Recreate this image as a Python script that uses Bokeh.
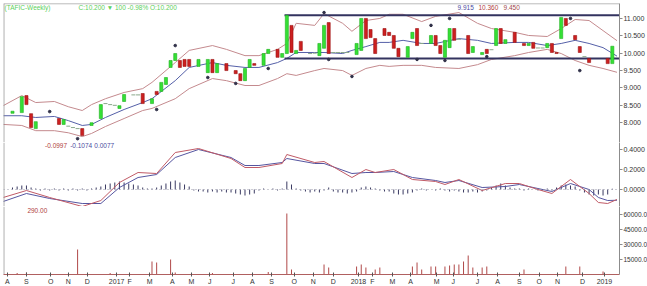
import numpy as np
from bokeh.plotting import figure
from bokeh.models import (ColumnDataSource, Range1d, LinearAxis, FixedTicker,
                          NumeralTickFormatter, Label, Span, AllLabels)
from bokeh.layouts import column
from bokeh.embed import file_html
from bokeh.resources import INLINE

# ---------------- data (week index) ----------------
candle_week = [0, 2, 3, 4, 5, 10, 11, 15, 17, 19, 23, 24, 28, 30, 31, 32, 33, 34, 35, 36,
               37, 38, 40, 42, 43, 44, 46, 48, 49, 50, 51, 52, 54, 55, 57, 58, 59, 60, 61, 62,
               66, 67, 68, 74, 75, 76, 77, 78, 80, 81, 82, 83, 85, 86, 87, 90, 91, 92, 93, 94,
               95, 98, 99, 101, 102, 104, 105, 106, 108, 110, 111, 112, 115, 116, 117, 118, 119,
               121, 122, 124, 128, 129]
candle_open = [8.27, 8.29, 8.78, 8.26, 7.83, 8.12, 7.95, 7.83, 7.92, 8.12, 8.41, 8.61, 8.84, 8.55,
               8.90, 8.90, 9.10, 9.59, 9.79, 9.79, 9.82, 9.82, 9.62, 9.44, 9.82, 9.44, 9.70, 9.50,
               9.41, 9.21, 9.59, 9.70, 9.65, 9.99, 10.11, 9.88, 9.99, 10.80, 9.99, 10.34,
               9.93, 10.14, 10.88, 9.96, 10.08, 11.00, 10.68, 10.42, 10.71, 10.60, 10.51, 10.14,
               9.88, 10.42, 10.71, 10.28, 10.51, 10.22, 9.88, 10.16, 10.71, 10.51, 10.02, 9.96,
               10.11, 10.22, 10.71, 10.28, 10.60, 10.28, 10.22, 10.31, 10.16, 10.28, 10.02, 10.42,
               11.00, 10.51, 10.19, 9.85, 9.85, 9.70]
candle_close = [8.33, 8.75, 8.52, 7.86, 8.03, 7.95, 8.09, 7.63, 8.00, 8.52, 8.49, 8.81, 8.55, 8.69,
                8.81, 9.16, 9.30, 9.79, 9.99, 9.59, 9.62, 9.62, 9.82, 9.82, 9.44, 9.70, 9.50, 9.41,
                9.21, 9.56, 9.82, 9.65, 9.99, 10.11, 9.88, 9.99, 11.09, 10.02, 10.08, 10.08,
                10.28, 10.80, 9.99, 10.28, 11.00, 10.42, 10.45, 9.99, 10.51, 10.51, 10.14, 9.90,
                10.19, 10.60, 10.22, 10.51, 10.22, 9.99, 10.37, 10.71, 10.37, 9.99, 10.19, 10.02,
                9.99, 10.71, 10.28, 10.39, 10.31, 10.22, 10.28, 10.14, 10.28, 10.02, 9.99, 11.03,
                10.80, 10.39, 10.02, 9.73, 9.70, 10.20]

doji_week = [12, 13, 14, 20, 21, 22, 26, 27, 64, 65, 69, 70, 71, 72, 88, 96, 103, 113, 114, 123]
doji_price = [7.90, 7.86, 7.83, 8.55, 8.52, 8.50, 8.80, 8.80, 9.99, 10.00, 10.02, 10.02, 10.02,
              10.02, 10.28, 10.40, 10.10, 10.15, 10.15, 9.90]

extreme_week = [8, 14, 31, 35, 42, 48, 55, 67, 68, 73, 87, 90, 93, 94, 102, 120, 122]
extreme_price = [8.32, 7.54, 8.38, 10.22, 9.30, 9.13, 9.56, 11.17, 9.82, 9.33, 9.82, 10.80, 9.79,
                 11.00, 9.90, 11.00, 9.50]

band_week = [-2, 2, 5, 9, 12, 15, 17, 20, 24, 28, 30, 35, 38, 43, 46, 50, 53, 57, 59, 61, 65, 67,
             71, 73, 76, 79, 81, 84, 88, 91, 96, 100, 103, 108, 111, 115, 118, 121, 124, 127, 130]
band_upper = [8.49, 8.78, 8.58, 8.61, 8.46, 8.35, 8.52, 8.69, 8.87, 8.98, 9.16, 9.73, 10.08, 10.22,
              10.11, 9.93, 9.93, 10.11, 10.28, 10.86, 10.80, 11.14, 10.86, 10.63, 10.94, 11.00,
              11.12, 11.12, 10.91, 11.06, 11.17, 10.86, 10.71, 10.60, 10.51, 10.48, 10.71, 10.97,
              10.94, 10.65, 10.36]
band_middle = [8.20, 8.20, 8.15, 8.18, 8.06, 7.92, 7.95, 8.15, 8.38, 8.58, 8.69, 9.21, 9.59, 9.73,
               9.65, 9.59, 9.59, 9.73, 9.85, 10.02, 10.02, 10.02, 9.99, 10.08, 10.19, 10.31, 10.31,
               10.37, 10.28, 10.28, 10.42, 10.37, 10.28, 10.31, 10.31, 10.22, 10.28, 10.37, 10.28,
               10.16, 9.915]
band_lower = [7.95, 7.92, 7.77, 7.77, 7.71, 7.60, 7.69, 7.89, 8.12, 8.35, 8.41, 8.69, 8.98, 9.27,
              9.21, 9.07, 9.07, 9.27, 9.41, 9.36, 9.50, 9.56, 9.50, 9.36, 9.56, 9.65, 9.62, 9.65,
              9.65, 9.59, 9.56, 9.67, 9.82, 9.93, 10.02, 10.11, 9.99, 9.79, 9.65, 9.56, 9.45]

channel_level = [11.09, 9.85]
channel_from = [58.5, 58.5]
channel_to = [130.5, 130.5]

macd_week = [-2, 3, 8, 15, 19, 23, 27, 31, 35, 40, 47, 50, 53, 58, 59, 65, 67, 73, 76, 78, 82, 86,
             91, 93, 96, 101, 106, 109, 113, 116, 120, 124, 126, 128, 130]
macd_line = [-0.08, -0.01, -0.08, -0.17, -0.11, 0.07, 0.17, 0.16, 0.37, 0.41, 0.31, 0.22, 0.22,
             0.26, 0.35, 0.27, 0.28, 0.12, 0.20, 0.17, 0.20, 0.10, 0.08, 0.05, 0.10, -0.01, 0.06,
             0.06, 0.00, -0.04, 0.10, -0.04, -0.13, -0.14, -0.0997]
signal_line = [-0.12, -0.04, -0.09, -0.14, -0.14, 0.02, 0.12, 0.15, 0.32, 0.40, 0.32, 0.24, 0.24,
               0.27, 0.31, 0.26, 0.26, 0.16, 0.17, 0.17, 0.18, 0.12, 0.09, 0.07, 0.09, 0.02, 0.03,
               0.05, 0.01, -0.02, 0.06, 0.00, -0.08, -0.11, -0.1074]
macd_hist = [0.02, 0.03, 0.04, 0.04, 0.02,
             0.01, -0.01, 0.01, -0.01, 0.01, -0.01, 0.01, -0.01, 0.01, -0.01, 0.01, -0.01,
             0.01, 0.02,
             0.03, 0.05, 0.06, 0.07, 0.08, 0.07, 0.06, 0.05, 0.04, 0.02,
             0.01, 0.01, 0.02,
             0.04, 0.06, 0.08, 0.09, 0.07, 0.05, 0.03,
             -0.01, -0.02, -0.02, -0.03, -0.02, -0.03, -0.02, -0.03, -0.03, -0.04,
             -0.05, -0.06, -0.05, -0.04,
             -0.01, 0.01, 0.00, 0.01, -0.01, 0.01,
             0.08, 0.05,
             0.01, -0.01,
             -0.02, -0.03, -0.02, -0.03, -0.01, 0.02, -0.02, -0.03, -0.03, -0.04, -0.03, -0.02,
             0.02, 0.03, 0.02, 0.01,
             -0.01, -0.02, -0.02,
             -0.04, -0.05, -0.05, -0.04, -0.03,
             -0.01, 0.01, -0.01, 0.00, -0.01, 0.01, -0.01,
             -0.02, -0.01, -0.02, -0.03, -0.03, -0.02, -0.03, -0.02, -0.01,
             0.02, 0.04, 0.06,
             0.04, 0.02, 0.01,
             0.01, -0.01, 0.01, 0.00, -0.01, -0.01, 0.01, -0.01,
             0.02,
             0.04, 0.05, 0.04, 0.03,
             -0.01,
             -0.03, -0.05, -0.06, -0.05, -0.06, -0.05,
             0.0077]

volume_week = [1, 3, 14, 21, 30, 31, 34, 35, 43, 55, 59, 60, 67, 68, 74, 75, 76, 78, 79, 86, 87,
               88, 90, 91, 93, 94, 95, 96, 97, 98, 99, 101, 102, 110, 119, 122, 127, 129]
volume = [1500, 2000, 25000, 1500, 13000, 12000, 15000, 2000, 1500, 2500, 61000, 5000, 10000, 7000,
          8000, 10000, 7000, 5000, 7000, 8000, 12000, 5000, 8000, 8000, 8000, 9000, 10000, 10000,
          13000, 19000, 7000, 7000, 8000, 5000, 8000, 8000, 3000, 290]

month_ticks = [-1.1, 3.0, 8.2, 12.0, 16.1, 22.4, 25.2, 29.5, 34.4, 38.5, 42.4, 47.5, 51.6, 55.7,
               60.6, 64.7, 69.0, 74.4, 77.4, 81.7, 85.6, 91.2, 94.8, 100.0, 104.3, 109.0, 113.3,
               117.2, 122.6, 127.3]
month_labels = ["A", "S", "O", "N", "D", "2017", "F", "M", "A", "M", "J", "J", "A", "S", "O", "N",
                "D", "2018", "F", "M", "A", "M", "J", "J", "A", "S", "O", "N", "D", "2019"]

price_ticks = [8.0, 8.5, 9.0, 9.5, 10.0, 10.5, 11.0]
macd_ticks = [0.0, 0.2, 0.4]
volume_ticks = [15000, 30000, 45000, 60000]

header_left = "(TAFIC-Weekly)"
header_quote = "C:10.200  \u25bc 100  -0.98%  O:10.200"
band_values = ["9.915", "10.360", "9.450"]
macd_values = ["-0.0997", "-0.1074", "0.0077"]
volume_value = "290.00"

# ---------------- styling ----------------
FONT = "Liberation Sans"
GREEN = "#35e035"
GREEN_EDGE = "#1fb01f"
RED = "#cc2020"
RED_EDGE = "#9a1010"
BAND = "#c48a8e"
MID = "#5560a8"
AXIS = "#8c8c8c"
TXT = "#333333"
X0, X1 = -1.935, 130.54
FW = 616

xr = Range1d(X0, X1)


def make_fig(frame_h, y0, y1, top=0):
    p = figure(frame_width=FW, frame_height=frame_h, x_range=xr, y_range=Range1d(y0, y1),
               output_backend="svg", toolbar_location=None,
               x_axis_location=None, y_axis_location=None,
               min_border_left=3, min_border_right=0, min_border_top=top, min_border_bottom=0,
               outline_line_color=None, background_fill_color="white",
               border_fill_color="white")
    p.grid.visible = False
    p.add_layout(Span(location=X0 + 0.08, dimension="height", line_color=AXIS, line_width=1))
    return p


def right_axis(p, ticks, fmt, size="7px"):
    ax = LinearAxis(ticker=FixedTicker(ticks=ticks), formatter=NumeralTickFormatter(format=fmt))
    ax.axis_line_color = AXIS
    ax.major_tick_line_color = AXIS
    ax.major_tick_out = 3
    ax.major_tick_in = 0
    ax.minor_tick_line_color = None
    ax.major_label_standoff = 1
    ax.major_label_text_font = FONT
    ax.major_label_text_font_size = size
    ax.major_label_text_color = TXT
    p.add_layout(ax, "right")
    return ax


def add_label(p, x, y, text, color, size="7px", align="left"):
    p.add_layout(Label(x=x, y=y, text=text, text_color=color, text_font=FONT,
                       text_font_size=size, text_baseline="middle", text_align=align))


# ---------------- price panel ----------------
pp = make_fig(139, 7.43, 11.43, top=3)
pp.add_layout(Span(location=11.425, dimension="width", line_color=AXIS, line_width=1))
right_axis(pp, price_ticks, "0.000")

o = np.array(candle_open)
c = np.array(candle_close)
up = c >= o
csrc = ColumnDataSource(dict(x=candle_week, top=np.maximum(o, c), bottom=np.minimum(o, c),
                             fill=[GREEN if u else RED for u in up],
                             edge=[GREEN_EDGE if u else RED_EDGE for u in up]))

pp.line(band_week, band_upper, line_color=BAND, line_width=1)
pp.line(band_week, band_lower, line_color=BAND, line_width=1)
pp.line(band_week, band_middle, line_color=MID, line_width=1)

pp.segment(x0=channel_from, y0=channel_level, x1=channel_to, y1=channel_level,
           line_color="#33335f", line_width=2)

pp.vbar(x="x", top="top", bottom="bottom", width=0.66, fill_color="fill", line_color="edge",
        line_width=0.6, source=csrc)
pp.scatter(doji_week, doji_price, marker="dash", size=4, line_color="#8aa88a", line_width=1)
pp.scatter(extreme_week, extreme_price, marker="circle", size=2.6, fill_color="#303048",
           line_color="#303048")

add_label(pp, -1.72, 11.315, header_left, "#5ccf5c", size="6.5px")
add_label(pp, 14.2, 11.315, header_quote, "#5ccf5c", size="6.5px")
add_label(pp, 95.7, 11.315, band_values[0], "#4a4aa0", size="6.5px")
add_label(pp, 100.2, 11.315, band_values[1], "#b04040", size="6.5px")
add_label(pp, 105.6, 11.315, band_values[2], "#a04848", size="6.5px")

# ---------------- MACD panel ----------------
pm = make_fig(64, -0.17, 0.47)
right_axis(pm, macd_ticks, "0.0000")
pm.add_layout(Span(location=0, dimension="width", line_color="#9a9aaa", line_width=1,
                   line_dash="1 3"))
hw = list(range(len(macd_hist)))
pm.segment(x0=hw, y0=[0] * len(hw), x1=hw, y1=macd_hist, line_color="#3a3a62", line_width=1)
pm.line(macd_week, signal_line, line_color="#5656a0", line_width=1)
pm.line(macd_week, macd_line, line_color="#c05a66", line_width=1)
add_label(pm, 7.0, 0.44, macd_values[0], "#b04040", size="6.5px")
add_label(pm, 12.4, 0.44, macd_values[1], "#4a4aa0", size="6.5px")
add_label(pm, 17.6, 0.44, macd_values[2], "#4a4aa0", size="6.5px")

# ---------------- volume panel ----------------
pv = make_fig(68, 0, 68000)
right_axis(pv, volume_ticks, "0.0", size="6.5px")
pv.segment(x0=volume_week, y0=[0] * len(volume_week), x1=volume_week, y1=volume,
           line_color="#b04848", line_width=1)
add_label(pv, 3.2, 64000, volume_value, "#b04040", size="6.5px")

xa = LinearAxis(ticker=FixedTicker(ticks=month_ticks))
xa.major_label_overrides = {t: l for t, l in zip(month_ticks, month_labels)}
xa.major_label_policy = AllLabels()
xa.axis_line_color = "#b06060"
xa.major_tick_line_color = "#555555"
xa.major_tick_out = 2
xa.major_tick_in = 2
xa.minor_tick_line_color = None
xa.major_label_standoff = 1
xa.major_label_text_font = FONT
xa.major_label_text_font_size = "7px"
xa.major_label_text_color = TXT
pv.add_layout(xa, "below")

layout = column(pp, pm, pv, spacing=0)
open("out.html", "w").write(file_html(layout, INLINE))
